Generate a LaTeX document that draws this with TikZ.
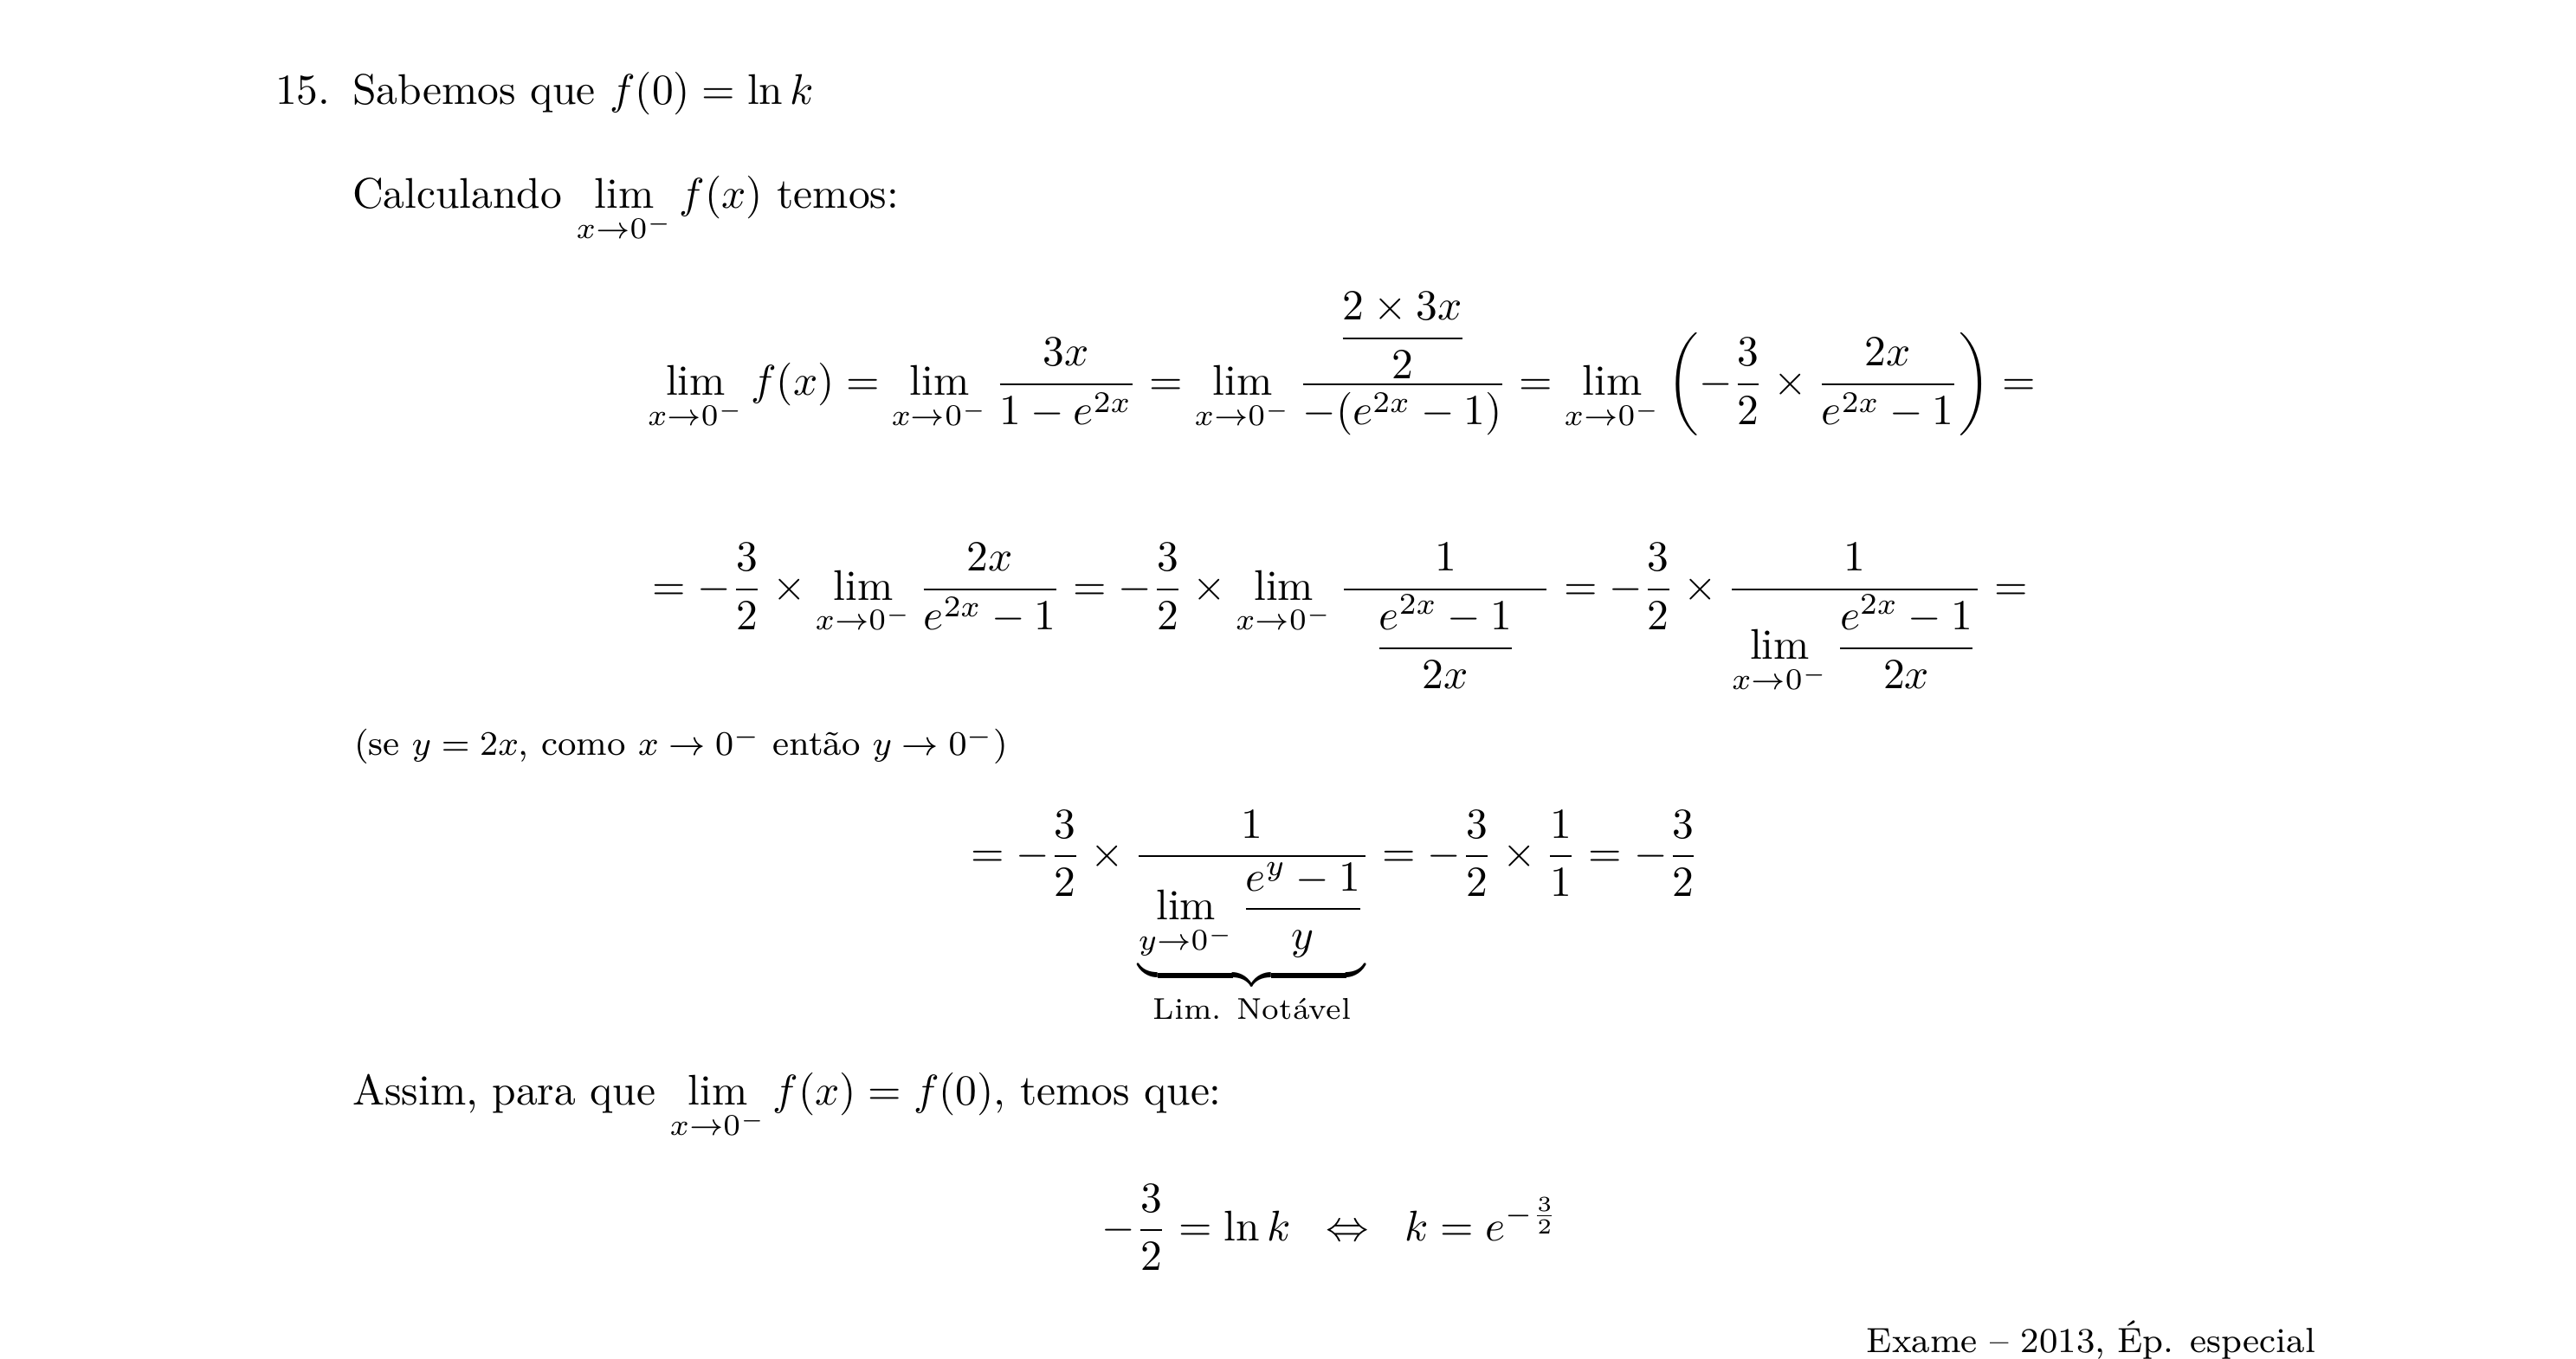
\documentclass[tikz,border=0pt]{standalone}
\usepackage{amsmath}
\usepackage{fontspec}
\begin{document}
\begin{tikzpicture}[x=0.38256pt,y=-0.38256pt,
  txt/.style={inner sep=0pt, outer sep=0pt, anchor=base west},
  txtr/.style={inner sep=0pt, outer sep=0pt, anchor=base east},
  smalltxt/.style={font=\fontsize{8.15}{10}\selectfont}]
\useasboundingbox (0,0) rectangle (1571,829);
\node[txt] (num) at (168,63.5) {15.};
\node[txt] (l1) at (215,63.5) {Sabemos que $f(0)=\ln k$};
\node[txt] (l2) at (215,127) {Calculando $\lim\limits_{x\to0^-} f(x)$ temos:};
\node[txt] (e1) at (395,241) {$\displaystyle \lim_{x\to0^-} f(x) = \lim_{x\to0^-}\frac{3x}{1-e^{2x}} = \lim_{x\to0^-}\frac{\dfrac{2\times3x}{2}}{-(e^{2x}-1)} = \lim_{x\to0^-}\left(-\frac{3}{2}\times\frac{2x}{e^{2x}-1}\right) =$};
\node[txt] (e2) at (398,366) {$\displaystyle = -\frac{3}{2}\times\lim_{x\to0^-}\frac{2x}{e^{2x}-1} = -\frac{3}{2}\times\lim_{x\to0^-}\frac{1}{\hspace{7pt}\dfrac{e^{2x}-1}{2x}\hspace{7pt}} = -\frac{3}{2}\times\frac{1}{\lim\limits_{x\to0^-}\dfrac{e^{2x}-1}{2x}} =$};
\node[txt,smalltxt] (se) at (216,461) {(se $y=2x$, como $x\to0^-$ então $y\to0^-$)};
\node[txt] (e3) at (592,529) {$\displaystyle = -\frac{3}{2}\times\frac{1}{\underbrace{\lim\limits_{y\to0^-}\dfrac{e^{y}-1}{y}}_{\text{Lim. Notável}}} = -\frac{3}{2}\times\frac{1}{1} = -\frac{3}{2}$};
\node[txt] (l3) at (215,674) {Assim, para que $\lim\limits_{x\to0^-} f(x)=f(0)$, temos que:};
\node[txt] (e4) at (672,757) {$\displaystyle -\frac{3}{2}=\ln k\hspace{5.5pt}\Leftrightarrow\hspace{5.5pt}k=e^{-\frac{3}{2}}$};
\node[txtr,smalltxt] (src) at (1412,825) {Exame -- 2013, Ép. especial};
\end{tikzpicture}
\end{document}
